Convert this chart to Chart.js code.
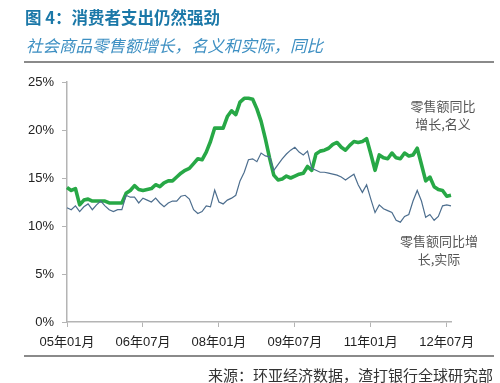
<!DOCTYPE html>
<html>
<head>
<meta charset="utf-8">
<script src="https://cdn.jsdelivr.net/npm/chart.js@4.4.1/dist/chart.umd.min.js"></script>
<style>
  html, body { margin: 0; padding: 0; background: #fff; }
  #wrap { position: relative; width: 500px; height: 383px; overflow: hidden; font-family: "Liberation Sans", "Noto Sans CJK SC", sans-serif; }
  #c { position: absolute; left: 0; top: 0; }
  .t { position: absolute; white-space: nowrap; }
  #title { left: 25px; top: 5px; font-size: 16.5px; font-weight: bold; color: #1b78a8; font-family: "Noto Sans CJK SC", sans-serif; }
  #sub { left: 26px; top: 33px; font-size: 16.5px; font-style: italic; color: #3d8fc2; font-family: "Noto Sans CJK SC", sans-serif; }
  .rule { position: absolute; left: 24px; width: 470px; height: 2px; background: #8a8a8a; }
  #src { right: 7px; top: 364px; font-size: 15px; color: #333; font-family: "Noto Sans CJK SC", sans-serif; }
  .ann { position: absolute; font-size: 13px; color: #555; text-align: center; line-height: 18px; font-family: "Noto Sans CJK SC", sans-serif; white-space: nowrap; }
</style>
</head>
<body>
<div id="wrap">
  <canvas id="c" width="500" height="383"></canvas>
  <div class="t" id="title">图 4：消费者支出仍然强劲</div>
  <div class="t" id="sub">社会商品零售额增长，名义和实际，同比</div>
  <div class="rule" style="top:61px"></div>
  <div class="rule" style="top:355px"></div>
  <div class="t" id="src">来源：环亚经济数据，渣打银行全球研究部</div>
  <div class="ann" id="ann1" style="left:403px; top:97px; width:80px;">零售额同比<br>增长,名义</div>
  <div class="ann" id="ann2" style="left:394px; top:232px; width:90px;">零售额同比增<br>长,实际</div>
</div>
<script>
// Months Jan 2005 .. Aug 2012
const startYear = 2005;
const monthCount = 92;
const months = [];
for (let i = 0; i < monthCount; i++) {
  const y = startYear + Math.floor(i / 12);
  const m = (i % 12) + 1;
  months.push(String(y % 100).padStart(2, '0') + '年' + String(m).padStart(2, '0') + '月');
}
const tickLabels = ['05年01月', '06年07月', '08年01月', '09年07月', '11年01月', '12年07月'];
const yTicks = [0, 5, 10, 15, 20, 25];

// Retail sales, nominal YoY (%)
const nominal = [
  14.0, 13.7, 13.9, 12.2, 12.7, 12.8, 12.6, 12.6, 12.6, 12.6, 12.4, 12.4,
  12.4, 12.4, 13.4, 13.7, 14.2, 13.8, 13.7, 13.8, 13.9, 14.3, 14.1, 14.5,
  14.7, 14.7, 15.1, 15.5, 15.8, 16.0, 16.5, 17.0, 16.9, 17.7, 18.8, 20.2,
  20.2, 20.2, 21.4, 22.0, 21.6, 22.9, 23.3, 23.3, 23.2, 22.2, 20.9, 19.1,
  17.1, 15.3, 14.8, 14.9, 15.2, 15.0, 15.2, 15.4, 15.5, 16.2, 15.8, 17.5,
  17.8, 17.9, 18.1, 18.5, 18.7, 18.2, 17.9, 18.4, 18.8, 18.7, 18.8, 19.1,
  17.5, 15.8, 17.4, 17.1, 17.0, 17.6, 17.1, 17.0, 17.6, 17.3, 17.4, 18.1,
  16.4, 14.7, 15.1, 14.1, 13.8, 13.7, 13.1, 13.2
];
// Retail sales, real YoY (%)
const real = [
  11.9, 11.7, 12.1, 11.5, 12.0, 12.3, 11.7, 12.2, 12.6, 12.1, 11.7, 11.5,
  11.7, 11.7, 13.2, 13.0, 13.0, 12.4, 12.9, 12.7, 12.5, 12.9, 12.4, 12.0,
  12.4, 12.6, 12.6, 13.1, 13.2, 12.8, 11.7, 11.3, 11.5, 12.1, 12.0, 13.75,
  12.5, 12.3, 12.7, 12.9, 13.2, 14.7, 15.6, 16.9, 17.0, 16.7, 17.6, 17.3,
  17.2, 15.8, 16.4, 17.0, 17.5, 17.9, 18.2, 17.7, 17.4, 17.8, 16.0, 15.8,
  15.6, 15.6, 15.5, 15.4, 15.3, 15.1, 14.8, 15.1, 15.4, 14.3, 13.5, 14.3,
  12.8, 11.4, 12.2, 11.8, 11.6, 11.4, 10.6, 10.4, 11.0, 11.2, 12.6, 13.7,
  12.6, 10.9, 11.2, 10.6, 11.0, 12.1, 12.2, 12.1
];

const axisColor = '#b4b4b4';
const tickFont = { family: '"Liberation Sans", "Noto Sans CJK SC", sans-serif', size: 13 };

new Chart(document.getElementById('c'), {
  type: 'line',
  data: {
    labels: months,
    datasets: [
      { label: '零售额同比增长,实际', data: real, borderColor: '#4d6e8e', borderWidth: 1.2, pointRadius: 0, tension: 0, fill: false },
      { label: '零售额同比增长,名义', data: nominal, borderColor: '#27a846', borderWidth: 3.6, pointRadius: 0, tension: 0, fill: false, borderJoinStyle: 'round' }
    ]
  },
  options: {
    responsive: false,
    animation: false,
    devicePixelRatio: 1,
    layout: { padding: { left: 0, right: 49, top: 82, bottom: 0 } },
    plugins: { legend: { display: false }, tooltip: { enabled: false }, title: { display: false } },
    scales: {
      x: {
        type: 'category',
        offset: false,
        grid: { display: true, drawOnChartArea: false, drawTicks: true, tickLength: 5, color: axisColor },
        border: { display: true, color: axisColor, width: 1.5 },
        ticks: {
          autoSkip: false, maxRotation: 0, minRotation: 0, padding: 8,
          color: '#222', font: tickFont,
          callback: function (v) { const l = months[v]; return tickLabels.includes(l) ? l : null; }
        },
        afterFit: function (s) { s.height = 61; }
      },
      y: {
        min: 0, max: 25,
        grid: { display: true, drawOnChartArea: false, drawTicks: true, tickLength: 5, color: axisColor },
        border: { display: true, color: axisColor, width: 1.5 },
        afterBuildTicks: function (s) { s.ticks = yTicks.map(v => ({ value: v })); },
        ticks: { padding: 8, color: '#222', font: tickFont, callback: v => v + '%' },
        afterFit: function (s) { s.width = 67; }
      }
    }
  }
});
</script>
</body>
</html>
